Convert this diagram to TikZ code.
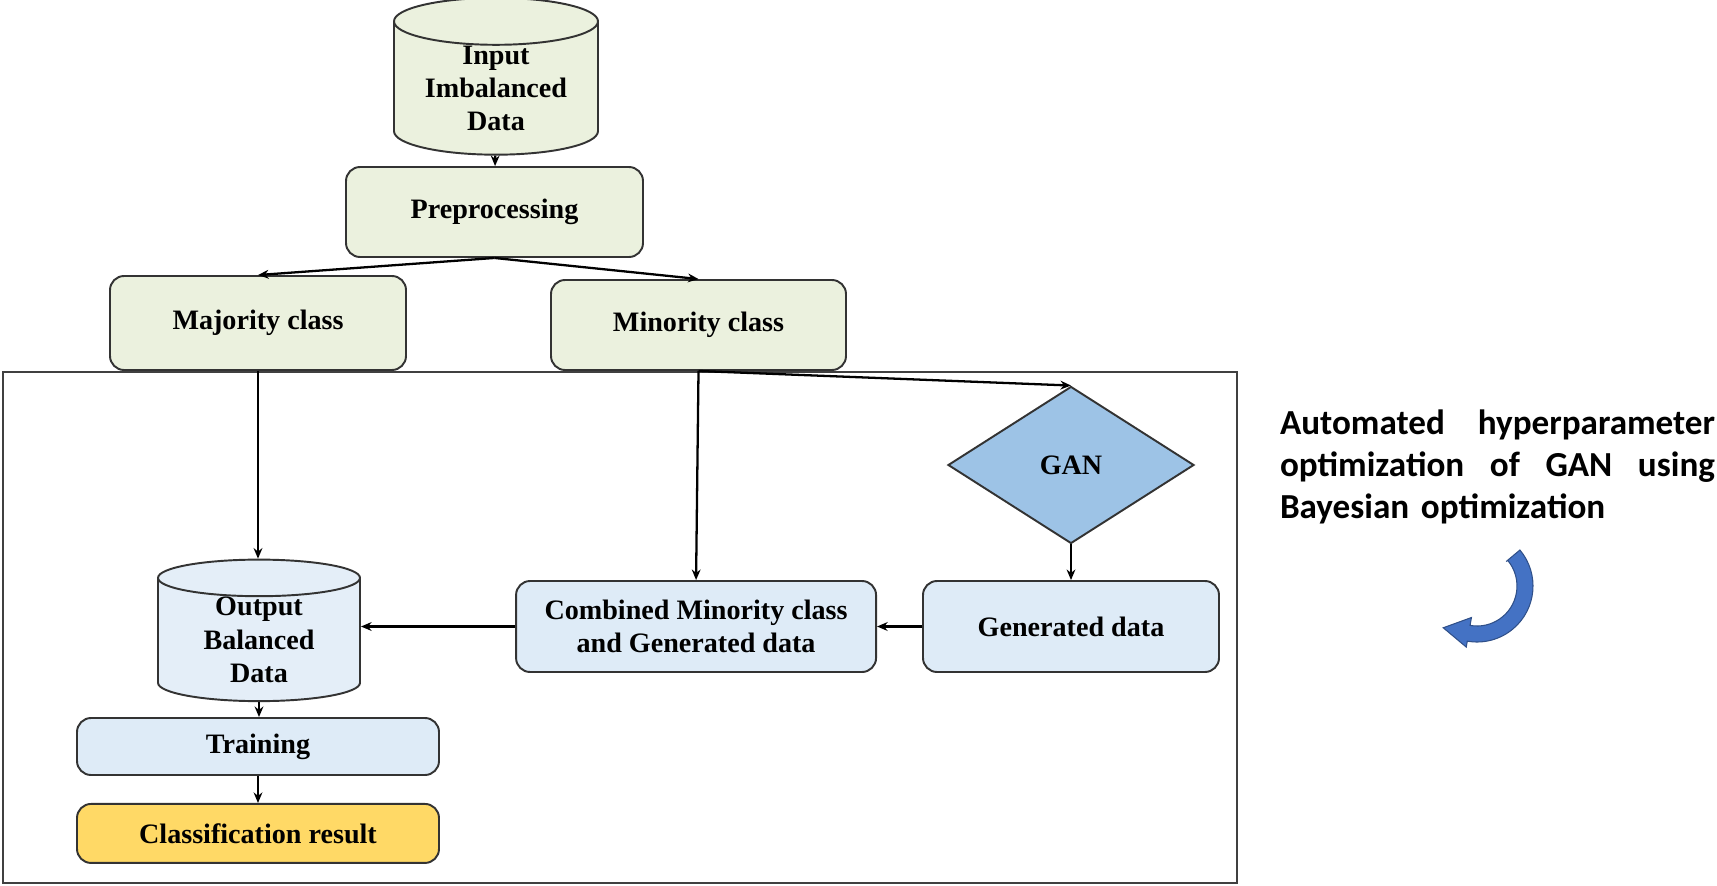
\documentclass[tikz,border=0pt]{standalone}
\usepackage{fontspec}
\setmainfont{Liberation Serif}
\newfontfamily\notefont{Carlito}
\usepackage{xcolor}
\usetikzlibrary{shapes.geometric,arrows.meta,positioning,calc}
\definecolor{boxgreen}{HTML}{EBF1DE}
\definecolor{boxblue}{HTML}{DEEBF7}
\definecolor{dbblue}{HTML}{E4EEF8}
\definecolor{ganblue}{HTML}{9DC3E6}
\definecolor{resultgold}{HTML}{FFD966}
\definecolor{curveblue}{HTML}{4472C4}
\begin{document}
\begin{tikzpicture}[font=\fontsize{16}{19}\selectfont\bfseries, box/.style={draw=black!80, line width=1.1pt, rounded corners=8pt, align=center, inner sep=2pt}, greenbox/.style={box, fill=boxgreen}, bluebox/.style={box, fill=boxblue}, db/.style={cylinder, shape border rotate=90, aspect=0.33, draw=black!80, line width=1.1pt, align=center, inner sep=0pt}, arr/.style={-{Stealth[length=6pt,width=5pt]}, line width=1.3pt}]
\useasboundingbox (0,0) rectangle (34.34,-17.72);
% top part
\node[db, fill=boxgreen, minimum width=4.08cm, minimum height=3.02cm] (input) at (9.92,-1.77) {Input\\Imbalanced\\Data};
\node[greenbox, minimum width=5.94cm, minimum height=1.8cm] (pre) at (9.89,-4.24) {Preprocessing};
\node[greenbox, minimum width=5.92cm, minimum height=1.88cm] (major) at (5.16,-6.46) {Majority class};
\node[greenbox, minimum width=5.9cm, minimum height=1.8cm] (minor) at (13.97,-6.5) {Minority class};
% frame
\draw[draw=black!75, line width=1.1pt] (0.06,-7.44) rectangle (24.74,-17.66);
% inside the frame
\node[diamond, aspect=1.57, draw=black!80, line width=1.1pt, fill=ganblue, inner sep=0pt, minimum width=4.92cm, minimum height=3.14cm] (gan) at (21.42,-9.3) {GAN};
\node[bluebox, minimum width=5.92cm, minimum height=1.82cm] (gendata) at (21.42,-12.53) {Generated data};
\node[bluebox, left=0.9cm of gendata, minimum width=7.2cm, minimum height=1.82cm] (combined) {Combined Minority class\\and Generated data};
\node[db, fill=dbblue, minimum width=4.04cm, minimum height=2.66cm] (output) at (5.18,-12.8) {Output\\Balanced\\Data};
\node[bluebox, minimum width=7.24cm, minimum height=1.14cm] (training) at (5.16,-14.93) {Training};
\node[box, fill=resultgold, below=0.54cm of training, minimum width=7.24cm, minimum height=1.18cm] (result) {Classification result};
% note on the right
\node[font=\notefont\fontsize{20}{24}\selectfont\bfseries, text width=8.7cm, align=left, inner sep=0pt] (note) at (29.95,-9.34) {Automated\hfill hyperparameter\\optimization\hfill of\hfill GAN\hfill using\\Bayesian optimization};
\coordinate (c) at (29.54,-11.72);
\filldraw[fill=curveblue, draw=curveblue!70!black, line width=0.6pt] ($(c)+(40:0.76)$) -- ($(c)+(40:1.12)$) arc[start angle=40, end angle=-100, radius=1.12cm] -- ($(c)+(-100:1.24)$) -- ($(c)+(-100:0.94)+(170:0.52)$) -- ($(c)+(-100:0.64)$) -- ($(c)+(-100:0.8)$) arc[start angle=-100, end angle=40, radius=0.8cm] -- cycle;
% connectors
\draw[arr] (input) -- (pre);
\draw[arr] (pre.south) -- (major.north);
\draw[arr] (pre.south) -- (minor.north);
\draw[arr] (major.south) -- (major.south |- output.north);
\draw[arr] (minor.south) -- (combined.north);
\draw[arr] (minor.south) -- (gan.north);
\draw[arr, line width=0.9pt] (gan.south) -- (gendata.north);
\draw[arr] (gendata) -- (combined);
\draw[arr] (combined.west) -- (combined.west -| output.east);
\draw[arr] (output.south) -- (output.south |- training.north);
\draw[arr] (training) -- (result);
\end{tikzpicture}
\end{document}
